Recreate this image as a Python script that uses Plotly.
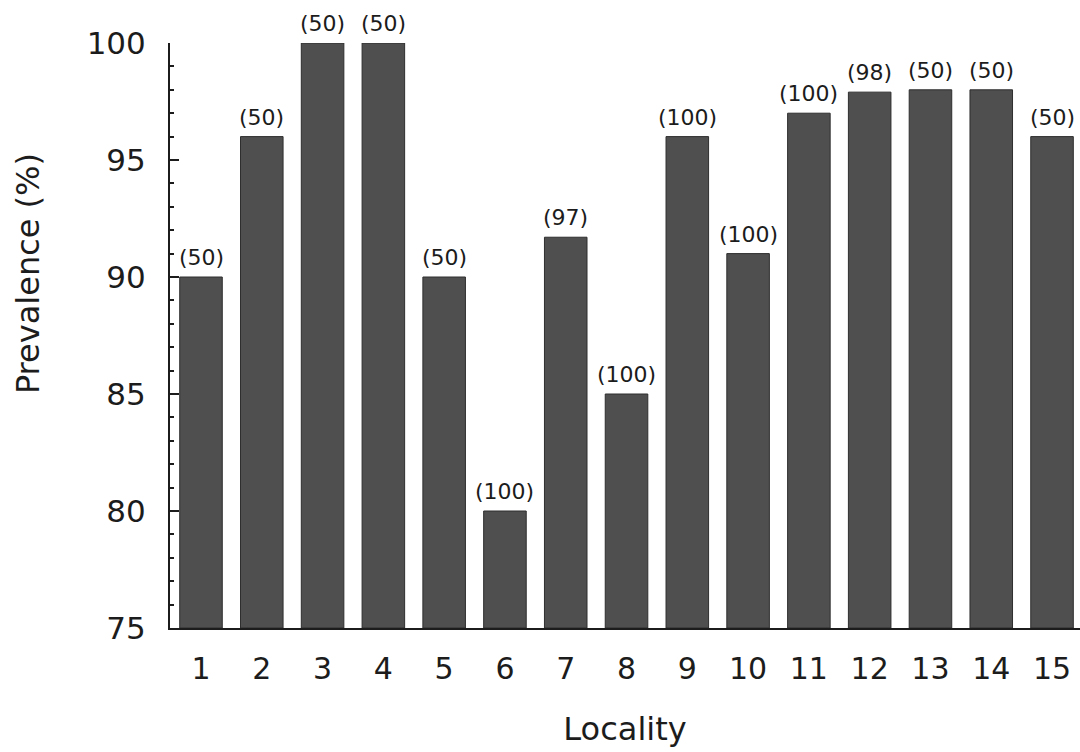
import plotly.graph_objects as go

# Prevalence by locality, with sample sizes shown above each bar
localities = [str(i) for i in range(1, 16)]
prevalence = [90, 96, 100, 100, 90, 80, 91.7, 85, 96, 91, 97, 97.9, 98, 98, 96]
sample_sizes = [50, 50, 50, 50, 50, 100, 97, 100, 100, 100, 100, 98, 50, 50, 50]
y_ticks = [75, 80, 85, 90, 95, 100]
BASE = 75

FONT = "DejaVu Sans, Liberation Sans, Arial, sans-serif"
INK = "#1c1c1c"

fig = go.Figure(
    go.Bar(
        x=list(range(1, 16)),
        y=[v - BASE for v in prevalence],
        base=BASE,
        width=0.7,
        marker=dict(color="#4f4f4f", line=dict(color="#2e2e2e", width=1)),
        hoverinfo="skip",
    )
)

# sample size labels above each bar
for i, (v, n) in enumerate(zip(prevalence, sample_sizes)):
    fig.add_annotation(
        x=i + 1,
        y=v,
        text=f"({n})",
        showarrow=False,
        yanchor="bottom",
        yshift=5,
        font=dict(family=FONT, size=22, color=INK),
    )

# vertical axis title, sitting a little above the middle of the axis
fig.add_annotation(
    xref="paper",
    yref="paper",
    x=-0.156,
    y=0.605,
    text="Prevalence (%)",
    textangle=-90,
    showarrow=False,
    xanchor="center",
    yanchor="middle",
    font=dict(family=FONT, size=32, color=INK),
)

fig.update_layout(
    width=1080,
    height=752,
    margin=dict(l=170, r=0, t=43, b=124),
    paper_bgcolor="white",
    plot_bgcolor="white",
    showlegend=False,
    font=dict(family=FONT, color=INK),
)

fig.update_xaxes(
    range=[0.49, 15.46],
    tickmode="array",
    tickvals=list(range(1, 16)),
    ticktext=localities,
    ticks="",
    showgrid=False,
    zeroline=False,
    showline=True,
    linecolor=INK,
    linewidth=2,
    tickfont=dict(size=30),
    ticklabelstandoff=13,
    title=dict(text="Locality", font=dict(size=32), standoff=33),
    automargin=False,
)

fig.update_yaxes(
    range=[75, 100],
    tickmode="array",
    tickvals=y_ticks,
    ticktext=[str(v) for v in y_ticks],
    ticks="inside",
    ticklen=9,
    tickwidth=1.5,
    tickcolor=INK,
    minor=dict(dtick=1, ticks="inside", ticklen=4, tickwidth=1.5, tickcolor=INK),
    showgrid=False,
    zeroline=False,
    showline=True,
    linecolor=INK,
    linewidth=2,
    tickfont=dict(size=31),
    ticklabelstandoff=16,
    automargin=False,
)

fig.write_html("out.html")
